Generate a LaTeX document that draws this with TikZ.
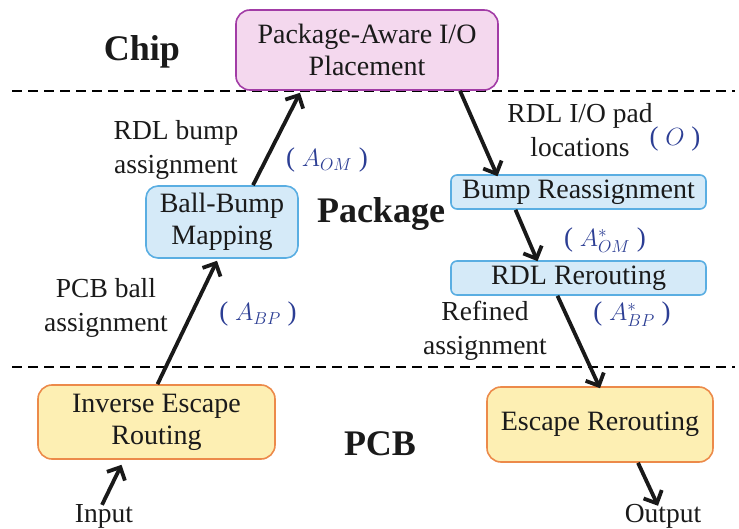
\documentclass[tikz,border=0pt]{standalone}
\usepackage{fontspec}
\setmainfont{Liberation Serif}
\usetikzlibrary{arrows.meta}
\definecolor{pinkfill}{HTML}{F4D8EE}
\definecolor{pinkdraw}{HTML}{A23CA6}
\definecolor{bluefill}{HTML}{D5EAF8}
\definecolor{bluedraw}{HTML}{5AAEE2}
\definecolor{yelfill}{HTML}{FDEFB3}
\definecolor{yeldraw}{HTML}{EC8A4A}
\definecolor{mathblue}{HTML}{2C3E94}
\definecolor{txt}{HTML}{1A1A1A}
\tikzset{
  box/.style={draw, line width=1.6pt, align=center, inner sep=0pt, text=txt,
    font=\fontsize{28}{32}\selectfont},
  pinkbox/.style={box, fill=pinkfill, draw=pinkdraw, rounded corners=14pt},
  bluebox/.style={box, fill=bluefill, draw=bluedraw, rounded corners=12pt},
  thinbox/.style={box, fill=bluefill, draw=bluedraw, rounded corners=6pt},
  yelbox/.style={box, fill=yelfill, draw=yeldraw, rounded corners=14pt},
  lbl/.style={align=center, inner sep=0pt, text=txt, font=\fontsize{27.5}{34}\selectfont},
  mlbl/.style={inner sep=0pt, text=mathblue, font=\fontsize{27}{32}\selectfont},
  region/.style={inner sep=0pt, text=txt, font=\fontsize{36}{40}\selectfont\bfseries},
  arr/.style={line width=3.8pt, color=black!90, -{Straight Barb[length=10pt,width=20pt,line width=3.8pt]}},
  sep/.style={line width=1.8pt, dash pattern=on 10pt off 6pt},
}
\begin{document}
\begin{tikzpicture}[x=1pt,y=-1pt]
\useasboundingbox (0,0) rectangle (739,529);
% dashed separators
\draw[sep] (12,91) -- (735,91);
\draw[sep] (12,367) -- (735,367);
% region labels
\node[region] (chip) at (142,52) {Chip};
\node[region] (pkg) at (381,214) {Package};
\node[region] (pcb) at (380,444) {PCB};
% boxes
\node[pinkbox, minimum width=262pt, minimum height=80pt] (place) at (367,50) {Package-Aware I/O\\Placement};
\node[bluebox, minimum width=152pt, minimum height=72pt] (bbm) at (222,222) {Ball-Bump\\Mapping};
\node[thinbox, minimum width=255pt, minimum height=34pt] (br) at (578.5,192) {Bump Reassignment};
\node[thinbox, minimum width=255pt, minimum height=34pt] (rr) at (578.5,278) {RDL Rerouting};
\node[yelbox, minimum width=237pt, minimum height=74pt] (ier) at (156.5,422) {Inverse Escape\\Routing};
\node[yelbox, minimum width=226pt, minimum height=75pt] (er) at (600,424.5) {Escape Rerouting};
% labels
\node[lbl] (l1) at (176,150) {RDL bump\\assignment};
\node[mlbl] (m1) at (327,160) {( $A_{OM}$ )};
\node[lbl] (l2) at (106,308) {PCB ball\\assignment};
\node[mlbl] (m2) at (258,314) {( $A_{BP}$ )};
\node[lbl] (l3) at (580,130) {RDL I/O pad\\locations};
\node[mlbl] (m3) at (675,139) {( $O$ )};
\node[mlbl] (m4) at (605,240) {( $A^{*}_{OM}$ )};
\node[lbl] (l4) at (485,331) {Refined\\assignment};
\node[mlbl] (m5) at (632,314) {( $A^{*}_{BP}$ )};
\node[lbl] (in) at (104,516) {Input};
\node[lbl] (out) at (663,516) {Output};
% arrows
\draw[arr] ([xshift=-2pt,yshift=-1pt]in.north) -- ([xshift=-35pt,yshift=-5pt]ier.south);
\draw[arr] ([xshift=1pt]ier.north) -- ([xshift=-5pt,yshift=-2pt]bbm.south);
\draw[arr] ([xshift=31pt]bbm.north) -- ([xshift=-67pt,yshift=-2pt]place.south);
\draw[arr] ([xshift=93pt]place.south) -- ([xshift=-81pt,yshift=-2pt]br.north);
\draw[arr] ([xshift=-63pt]br.south) -- ([xshift=-41pt,yshift=-1pt]rr.north);
\draw[arr] ([xshift=-21pt]rr.south) -- ([xshift=0pt,yshift=-2pt]er.north);
\draw[arr] ([xshift=38pt]er.south) -- ([xshift=-5pt,yshift=-2pt]out.north);
\end{tikzpicture}
\end{document}
